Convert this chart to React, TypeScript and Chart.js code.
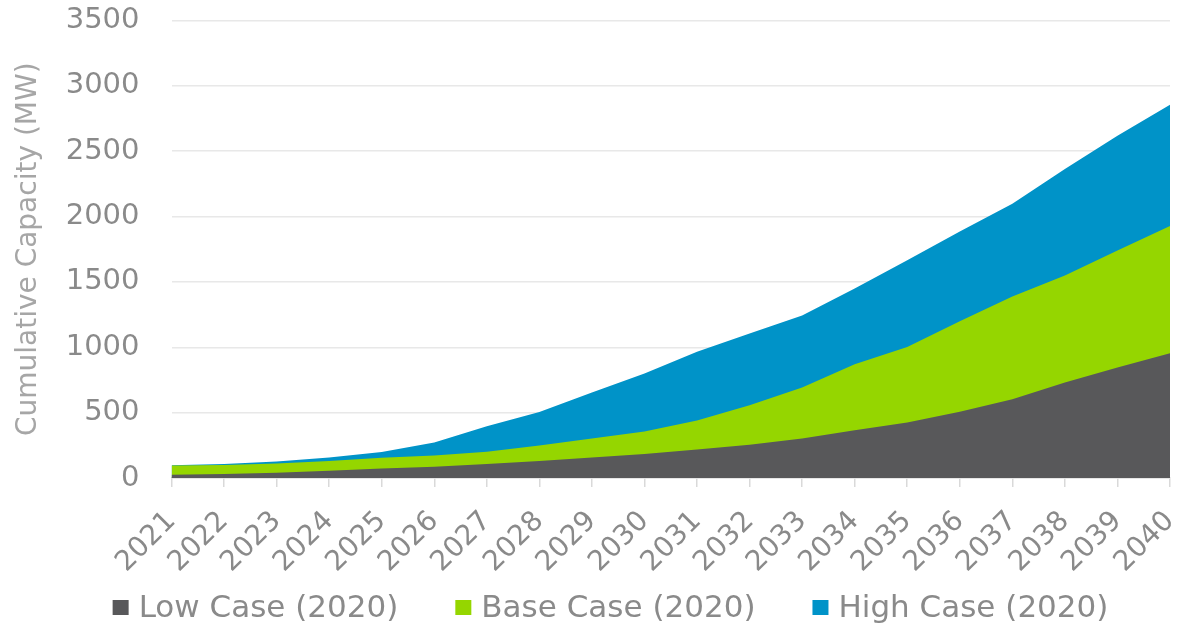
import React, { useEffect, useRef } from "react";
import { Chart, registerables } from "chart.js";

Chart.register(...registerables);

const years = ["2021", "2022", "2023", "2024", "2025", "2026", "2027", "2028", "2029", "2030", "2031", "2032", "2033", "2034", "2035", "2036", "2037", "2038", "2039", "2040"];
const lowCase = [25, 30, 40, 55, 72, 87, 108, 130, 157, 183, 218, 255, 303, 366, 425, 506, 602, 730, 845, 955];
const baseCase = [95, 100, 111, 130, 155, 172, 200, 248, 303, 355, 440, 557, 692, 870, 1002, 1200, 1388, 1550, 1741, 1928];
const highCase = [98, 108, 126, 157, 198, 272, 395, 505, 655, 800, 965, 1105, 1244, 1450, 1665, 1885, 2098, 2364, 2618, 2855];
const seriesLabels = ["Low Case (2020)", "Base Case (2020)", "High Case (2020)"];
const yTitle = "Cumulative Capacity (MW)";

const FONT = "'DejaVu Sans', Verdana, sans-serif";
const GRAY = "#58585a";
const GREEN = "#95d600";
const BLUE = "#0093c8";

// legend drawn from the chart's own datasets
const bottomLegend = {
  id: "bottomLegend",
  afterDraw(chart: any) {
    const ctx = chart.ctx;
    const datasets = chart.data.datasets;
    const box = 16;
    const boxGap = 10;
    const itemGap = 57;
    ctx.save();
    ctx.font = `31px ${FONT}`;
    ctx.textBaseline = "middle";
    ctx.textAlign = "left";
    const widths = datasets.map((d: any) => ctx.measureText(d.label).width);
    const total = widths.reduce((a: number, w: number) => a + box + boxGap + w, 0) + itemGap * (datasets.length - 1);
    const cy = chart.height - 24;
    let x = chart.width / 2 + 21 - total / 2;
    datasets.forEach((d: any, i: number) => {
      ctx.fillStyle = d.backgroundColor;
      ctx.fillRect(x, cy - box / 2, box, box - 1);
      x += box + boxGap;
      ctx.fillStyle = "#8a8a8a";
      ctx.fillText(d.label, x, cy + 1);
      x += widths[i] + itemGap;
    });
    ctx.restore();
  },
};

export default function App() {
  const ref = useRef<HTMLCanvasElement | null>(null);

  useEffect(() => {
    if (!ref.current) return;
    const mk = (label: string, data: number[], color: string) => ({
      label,
      data,
      backgroundColor: color,
      borderColor: color,
      borderWidth: 0,
      pointRadius: 0,
      pointHoverRadius: 0,
      tension: 0,
      fill: "origin",
    });
    const chart = new Chart(ref.current, {
      type: "line",
      data: {
        labels: years,
        datasets: [
          mk(seriesLabels[0], lowCase, GRAY),
          mk(seriesLabels[1], baseCase, GREEN),
          mk(seriesLabels[2], highCase, BLUE),
        ],
      },
      plugins: [bottomLegend],
      options: {
        responsive: false,
        animation: false,
        devicePixelRatio: 1,
        layout: { padding: { left: 8, right: 9, top: 0, bottom: 49 } },
        plugins: {
          tooltip: { enabled: false },
          legend: { display: false },
        },
        scales: {
          x: {
            offset: false,
            border: { display: true, color: "#d9d9d9", width: 1.5 },
            grid: { drawOnChartArea: false, drawTicks: true, tickLength: 9, color: "#d9d9d9", lineWidth: 1.5 },
            ticks: {
              autoSkip: false,
              minRotation: 45,
              maxRotation: 45,
              padding: 18,
              color: "#8a8a8a",
              font: { family: FONT, size: 28 },
            },
            afterFit: (s: any) => {
              s.paddingRight = 0;
              s.height = 105;
            },
          },
          y: {
            min: 0,
            max: 3500,
            border: { display: false },
            grid: { drawTicks: false, color: "#e8e8e8", lineWidth: 1.5 },
            ticks: {
              stepSize: 500,
              padding: 32,
              color: "#8a8a8a",
              font: { family: FONT, size: 29 },
              callback: (v: any) => String(v),
            },
            title: {
              display: true,
              text: yTitle,
              color: "#a6a6a6",
              font: { family: FONT, size: 28 },
              padding: { top: 4, bottom: 20 },
            },
            afterFit: (s: any) => {
              s.paddingTop = 20.5;
              s.width = 163.5;
            },
          },
        },
      },
    } as any);
    return () => chart.destroy();
  }, []);

  return (
    <div style={{ position: "fixed", left: 0, top: 0, width: 1179, height: 632, background: "#fff" }}>
      <canvas ref={ref} width={1179} height={632} style={{ width: 1179, height: 632, display: "block" }} />
    </div>
  );
}
